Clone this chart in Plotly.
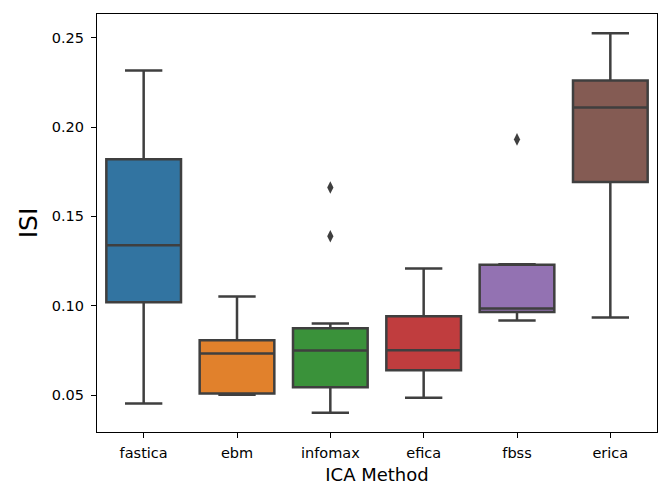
import plotly.graph_objects as go

methods = ["fastica", "ebm", "infomax", "efica", "fbss", "erica"]
lower_whisker = [0.0452, 0.0502, 0.0401, 0.0485, 0.0917, 0.0934]
q1_vals = [0.1019, 0.0508, 0.0543, 0.0638, 0.0965, 0.1693]
median_vals = [0.1339, 0.0732, 0.0749, 0.0750, 0.0984, 0.2110]
q3_vals = [0.1820, 0.0806, 0.0874, 0.0941, 0.1229, 0.2261]
upper_whisker = [0.2317, 0.1051, 0.0900, 0.1208, 0.1232, 0.2525]
colors = ["#3274a1", "#e1812c", "#3a923a", "#c03d3e", "#9372b2", "#845b53"]

outlier_methods = ["infomax", "infomax", "fbss"]
outlier_values = [0.1662, 0.1389, 0.1931]

y_ticks = [0.05, 0.10, 0.15, 0.20, 0.25]

fig = go.Figure()
for i, m in enumerate(methods):
    fig.add_trace(go.Box(
        x=[m], q1=[q1_vals[i]], median=[median_vals[i]], q3=[q3_vals[i]],
        lowerfence=[lower_whisker[i]], upperfence=[upper_whisker[i]],
        fillcolor=colors[i], line=dict(color="#3f3f3f", width=2.5),
        whiskerwidth=0.5, width=0.8, boxpoints=False, showlegend=False, name=m,
    ))

fig.add_trace(go.Scatter(
    x=outlier_methods, y=outlier_values, mode="markers",
    marker=dict(symbol="diamond-tall", size=9, color="#3f3f3f"),
    showlegend=False,
))

fig.update_layout(
    width=659, height=485,
    margin=dict(l=97, r=2, t=14, b=53),
    plot_bgcolor="white", paper_bgcolor="white",
    boxmode="overlay",
    font=dict(family="DejaVu Sans", color="black", size=14),
)
fig.update_xaxes(
    categoryorder="array", categoryarray=methods,
    range=[-0.5, 5.5], automargin=False,
    showline=True, linecolor="black", linewidth=1.25, mirror=True,
    ticks="outside", ticklen=5, tickcolor="black", tickwidth=1.25,
    showgrid=False, zeroline=False,
    title=dict(text="ICA Method", font=dict(size=18), standoff=15),
    tickfont=dict(size=14.5), ticklabelstandoff=2,
)
fig.update_yaxes(
    range=[0.0293, 0.2633], automargin=False,
    tickvals=y_ticks, tickformat=".2f",
    showline=True, linecolor="black", linewidth=1.25, mirror=True,
    ticks="outside", ticklen=5, tickcolor="black", tickwidth=1.25,
    showgrid=False, zeroline=False,
    title=dict(text="ISI", font=dict(size=25), standoff=6),
    tickfont=dict(size=14.5), ticklabelstandoff=4,
)

fig.write_html(
    "out.html",
    config={"displayModeBar": False},
    post_script="document.body.style.margin='0';document.body.style.overflow='hidden';",
)
